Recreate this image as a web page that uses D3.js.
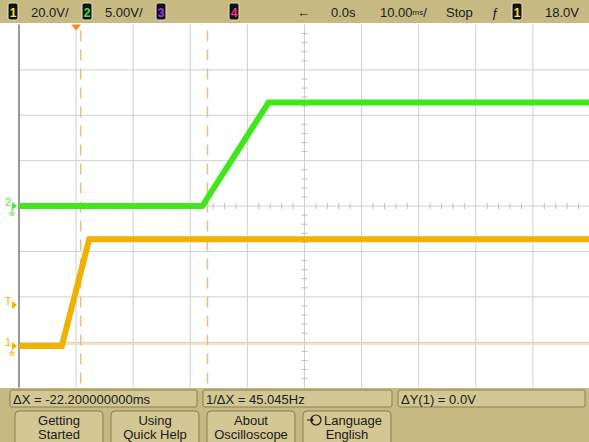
<!DOCTYPE html>
<html>
<head>
<meta charset="utf-8">
<script src="https://cdn.jsdelivr.net/npm/d3@7"></script>
<style>
  body { margin: 0; background: #fff; }
  svg { display: block; font-family: "Liberation Sans", Arial, sans-serif; }
</style>
</head>
<body>
<div id="scope"></div>
<script>
const width = 589;
const height = 442;

// time base: 10 ms/div, 10 divisions, centred on 0.0 s
const timeDomain = [-50, 50];
const divDomain = [-4, 4];

// channel 1 (orange), 20 V/div
const ch1Times = [-50, -42.5, -37.7, 50];
const ch1Volts = [0, 0, 47, 47];
const ch1Scale = 20;
const ch1Offset = -3.08; // divisions below centre for 0 V

// channel 2 (green), 5 V/div
const ch2Times = [-50, -17.9, -6.3, 50];
const ch2Volts = [0, 0, 11.4, 11.4];
const ch2Scale = 5;
const ch2Offset = 0;

// cursors
const cursorTimes = [-17.0, -39.2];
const cursorVolts = [0.0, 0.0];
const triggerVolts = 18.0;
const triggerPosTime = -40;

const headerItems = [
  { box: "1", boxColor: "#f2e64a", text: "20.0V/", x: 8 },
  { box: "2", boxColor: "#46e83c", text: "5.00V/", x: 82 },
  { box: "3", boxColor: "#9a3cff", text: "", x: 156 },
  { box: "4", boxColor: "#ff2a8a", text: "", x: 229 },
];
const measureLabels = ["\u0394X = -22.200000000ms", "1/\u0394X = 45.045Hz", "\u0394Y(1) = 0.0V"];
const softkeyLabels = [["Getting", "Started"], ["Using", "Quick Help"], ["About", "Oscilloscope"], ["Language", "English"]];

const plot = { left: 19, right: 590, top: 24.5, bottom: 387.7 };

const x = d3.scaleLinear().domain(timeDomain).range([plot.left, plot.right]);
const yDiv = d3.scaleLinear().domain(divDomain).range([plot.bottom, plot.top]);
const y1 = (v) => yDiv(v / ch1Scale + ch1Offset);
const y2 = (v) => yDiv(v / ch2Scale + ch2Offset);

const orange = "#f0b200";
const green = "#3ee81a";
const tan = "#c7b982";

const svg = d3.select("#scope").append("svg").attr("width", width).attr("height", height);

svg.append("rect").attr("width", width).attr("height", height).attr("fill", "#fff");

// grid
const grid = svg.append("g");
grid.selectAll(".vline")
  .data(d3.range(-40, 60, 10))
  .join("line")
  .attr("x1", (d) => x(d)).attr("x2", (d) => x(d))
  .attr("y1", plot.top).attr("y2", plot.bottom)
  .attr("stroke", "#cfcfcf").attr("stroke-width", 1);
grid.selectAll(".hline")
  .data(d3.range(-3, 4, 1))
  .join("line")
  .attr("class", "hline")
  .attr("x1", plot.left).attr("x2", plot.right)
  .attr("y1", (d) => yDiv(d)).attr("y2", (d) => yDiv(d))
  .attr("stroke", "#cfcfcf").attr("stroke-width", 1);

// minor ticks on centre axes
grid.selectAll(".xtick")
  .data(d3.range(-50, 50.01, 2).filter((d) => d % 10 !== 0))
  .join("line")
  .attr("x1", (d) => x(d)).attr("x2", (d) => x(d))
  .attr("y1", yDiv(0) - 3).attr("y2", yDiv(0) + 3)
  .attr("stroke", "#bdbdbd");
grid.selectAll(".ytick")
  .data(d3.range(-4, 4.01, 0.2).filter((d) => Math.abs(d - Math.round(d)) > 0.01))
  .join("line")
  .attr("x1", x(0) - 3).attr("x2", x(0) + 3)
  .attr("y1", (d) => yDiv(d)).attr("y2", (d) => yDiv(d))
  .attr("stroke", "#bdbdbd");

// left border
svg.append("line")
  .attr("x1", plot.left).attr("x2", plot.left)
  .attr("y1", plot.top).attr("y2", plot.bottom)
  .attr("stroke", "#333").attr("stroke-width", 1);

// cursors
svg.append("line")
  .attr("x1", plot.left).attr("x2", plot.right)
  .attr("y1", y1(cursorVolts[0]) - 2).attr("y2", y1(cursorVolts[0]) - 2)
  .attr("stroke", "#f6d9a0").attr("stroke-width", 1.5);
svg.selectAll(".xcursor")
  .data(cursorTimes)
  .join("line")
  .attr("x1", (d) => x(d)).attr("x2", (d) => x(d))
  .attr("y1", plot.top + 6).attr("y2", plot.bottom)
  .attr("stroke", "#eebb80").attr("stroke-width", 1.5)
  .attr("stroke-dasharray", "11,8");

// traces
const traceLine = d3.line();
const ch1 = ch1Times.map((t, i) => [x(t), y1(ch1Volts[i])]);
const ch2 = ch2Times.map((t, i) => [x(t), y2(ch2Volts[i])]);

svg.append("path")
  .attr("d", traceLine(ch2))
  .attr("fill", "none").attr("stroke", green)
  .attr("stroke-width", 6).attr("stroke-linejoin", "miter");
svg.append("path")
  .attr("d", traceLine(ch1))
  .attr("fill", "none").attr("stroke", orange)
  .attr("stroke-width", 6).attr("stroke-linejoin", "miter");

// left markers
const markers = [
  { label: "2", y: y2(0), color: "#4ee43a" },
  { label: "T", y: y1(triggerVolts), color: "#f0b400" },
  { label: "1", y: y1(0), color: "#f0b400" },
];
const mk = svg.selectAll(".marker").data(markers).join("g")
  .attr("transform", (d) => `translate(0, ${d.y})`);
mk.append("text")
  .attr("x", 8).attr("y", 0)
  .attr("text-anchor", "middle")
  .attr("font-size", 11)
  .attr("fill", (d) => d.color)
  .text((d) => d.label);
mk.append("path")
  .attr("d", "M12,-4L17,0L12,4Z")
  .attr("fill", (d) => d.color);
mk.filter((d) => d.label !== "T").append("path")
  .attr("d", "M12,3L12,7M9,7L15,7M10,9L14,9")
  .attr("fill", "none")
  .attr("stroke", (d) => d.color).attr("stroke-width", 1);

// trigger position marker
svg.append("path")
  .attr("d", `M${x(triggerPosTime) - 5},${plot.top}L${x(triggerPosTime) + 5},${plot.top}L${x(triggerPosTime)},${plot.top + 6}Z`)
  .attr("fill", "#f58a1e");

// header
svg.append("rect").attr("x", 0).attr("y", 0).attr("width", width).attr("height", 23).attr("fill", tan);
const hdr = svg.selectAll(".hdr").data(headerItems).join("g")
  .attr("transform", (d) => `translate(${d.x}, 3)`);
hdr.append("rect")
  .attr("width", 10).attr("height", 17).attr("rx", 2)
  .attr("fill", "#111").attr("stroke", "#e8e2c6").attr("stroke-width", 1);
hdr.append("text")
  .attr("x", 5).attr("y", 13.5)
  .attr("text-anchor", "middle").attr("font-size", 12).attr("font-weight", "bold")
  .attr("fill", (d) => d.boxColor)
  .text((d) => d.box);
hdr.append("text")
  .attr("x", 23).attr("y", 13.5)
  .attr("font-size", 13).attr("fill", "#1a1a1a")
  .text((d) => d.text);

const hdrRight = svg.append("g").attr("font-size", 13).attr("fill", "#1a1a1a");
hdrRight.append("text").attr("x", 297).attr("y", 16.5).attr("font-weight", "bold").text("\u2190");
hdrRight.append("text").attr("x", 331).attr("y", 16.5).text("0.0s");
const tb = hdrRight.append("text").attr("x", 380).attr("y", 16.5);
tb.append("tspan").text("10.00");
tb.append("tspan").attr("font-size", 8).attr("dy", -2).text("ms");
tb.append("tspan").attr("dy", 2).text("/");
hdrRight.append("text").attr("x", 446).attr("y", 16.5).text("Stop");
hdrRight.append("text").attr("x", 491).attr("y", 16.5).attr("font-style", "italic").text("\u0192");
hdrRight.append("rect").attr("x", 512).attr("y", 3).attr("width", 10).attr("height", 17).attr("rx", 2)
  .attr("fill", "#111").attr("stroke", "#e8e2c6");
hdrRight.append("text").attr("x", 517).attr("y", 16.5).attr("text-anchor", "middle")
  .attr("font-size", 12).attr("font-weight", "bold").attr("fill", "#f2e64a").text("1");
hdrRight.append("text").attr("x", 545).attr("y", 16.5).text("18.0V");

// bottom panel
svg.append("rect").attr("x", 0).attr("y", 388).attr("width", width).attr("height", 54).attr("fill", tan);
const measX = [10, 203, 398];
const measW = [187, 189, 187];
const meas = svg.selectAll(".meas").data(measureLabels).join("g")
  .attr("transform", (d, i) => `translate(${measX[i]}, 390)`);
meas.append("rect")
  .attr("width", (d, i) => measW[i]).attr("height", 17).attr("rx", 2)
  .attr("fill", "#d3c793").attr("stroke", "#8b7f55");
meas.append("text")
  .attr("x", 3).attr("y", 13.5)
  .attr("font-size", 13).attr("fill", "#1a1a1a")
  .text((d) => d);

const keyX = [15, 111, 207, 303];
const keys = svg.selectAll(".key").data(softkeyLabels).join("g")
  .attr("transform", (d, i) => `translate(${keyX[i]}, 411)`);
keys.append("rect")
  .attr("width", 88).attr("height", 36).attr("rx", 4)
  .attr("fill", "#d3c793").attr("stroke", "#8b7f55");
keys.append("text")
  .attr("x", 44).attr("y", 14).attr("text-anchor", "middle")
  .attr("font-size", 13).attr("fill", "#1a1a1a")
  .text((d) => d[0]);
keys.append("text")
  .attr("x", 44).attr("y", 28).attr("text-anchor", "middle")
  .attr("font-size", 13).attr("fill", "#1a1a1a")
  .text((d) => d[1]);
// rotate icon on language key
keys.filter((d, i) => i === 3).select("text").attr("x", 50);
keys.filter((d, i) => i === 3).append("circle")
  .attr("cx", 13).attr("cy", 9).attr("r", 5)
  .attr("fill", "none").attr("stroke", "#1a1a1a").attr("stroke-width", 1.2);
keys.filter((d, i) => i === 3).append("path")
  .attr("d", "M4,9L10,9M8,7L10,9L8,11")
  .attr("fill", "none").attr("stroke", "#1a1a1a").attr("stroke-width", 1.2);
</script>
</body>
</html>
